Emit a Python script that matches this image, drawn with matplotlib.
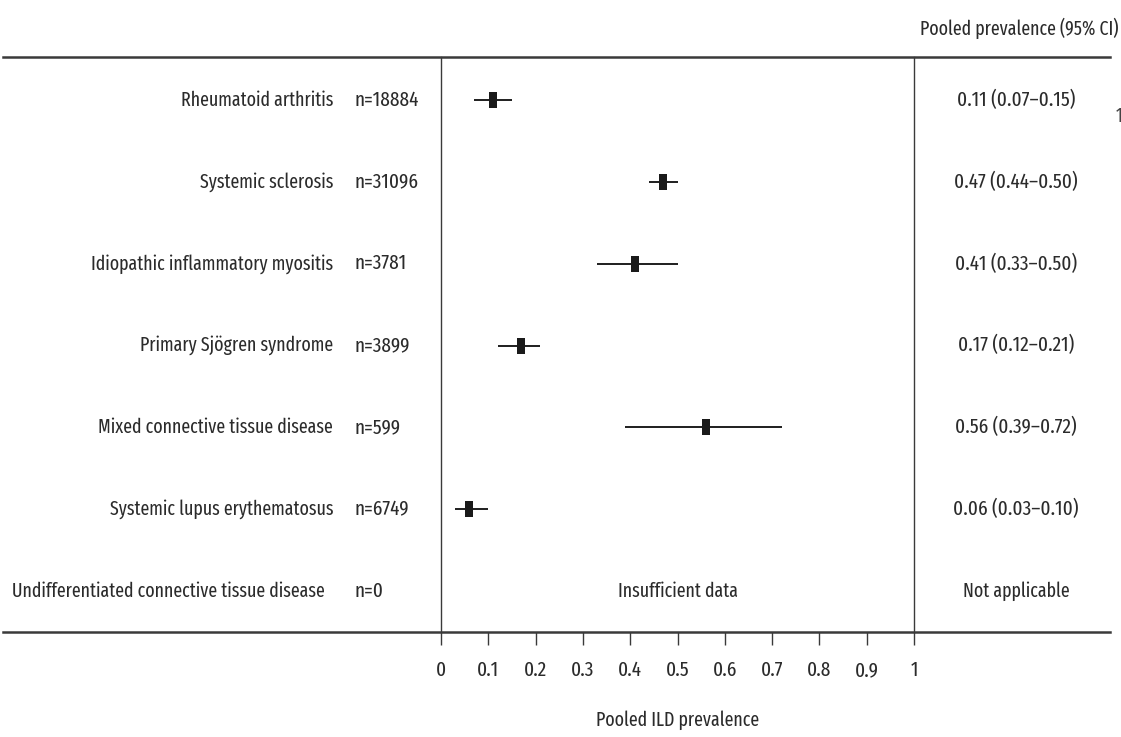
import matplotlib.pyplot as plt
from matplotlib import font_manager
from matplotlib.lines import Line2D
from matplotlib.transforms import blended_transform_factory
import numpy as np

names = ["Rheumatoid arthritis", "Systemic sclerosis", "Idiopathic inflammatory myositis",
         "Primary Sjögren syndrome", "Mixed connective tissue disease",
         "Systemic lupus erythematosus", "Undifferentiated connective tissue disease"]
n_counts = ["n=18884", "n=31096", "n=3781", "n=3899", "n=599", "n=6749", "n=0"]
est = [0.11, 0.47, 0.41, 0.17, 0.56, 0.06]
lo = [0.07, 0.44, 0.33, 0.12, 0.39, 0.03]
hi = [0.15, 0.50, 0.50, 0.21, 0.72, 0.10]
ci_text = ["0.11 (0.07–0.15)", "0.47 (0.44–0.50)", "0.41 (0.33–0.50)", "0.17 (0.12–0.21)",
           "0.56 (0.39–0.72)", "0.06 (0.03–0.10)", "Not applicable"]
ticks = np.arange(0, 1.01, 0.1)
tick_labels = ["0", "0.1", "0.2", "0.3", "0.4", "0.5", "0.6", "0.7", "0.8", "0.9", "1"]

# pick a condensed sans if one is around
avail = {f.name for f in font_manager.fontManager.ttflist}
fam = 'DejaVu Sans'
for cand in ['Fira Sans Extra Condensed', 'Fira Sans Condensed', 'IBM Plex Sans Condensed',
             'Open Sans Condensed', 'Roboto Condensed']:
    if cand in avail:
        fam = cand
        break
plt.rcParams['font.family'] = [fam, 'DejaVu Sans']
plt.rcParams['font.size'] = 15
txt = '#2b2b2b'
lc = '#3a3a3a'

W, H = 1121, 737
fig = plt.figure(figsize=(W / 100, H / 100), dpi=100)

def fx(px):
    return px / W

def fy(py):
    return 1 - py / H

ax = fig.add_axes([fx(441), fy(632), fx(914) - fx(441), fy(57) - fy(632)])
ax.set_xlim(0, 1)
ax.set_ylim(6.5, -0.525)

# estimates with confidence intervals
rect = [(-0.5, -1), (0.5, -1), (0.5, 1), (-0.5, 1), (-0.5, -1)]
ys = np.arange(len(est))
ax.hlines(ys, lo, hi, color='#1e1e1e', lw=1.4)
ax.scatter(est, ys, marker=rect, s=125, color='#1a1a1a', zorder=3, linewidths=0)

ax.text(0.5, 6, "Insufficient data", ha='center', va='center', color=txt, fontsize=14)

for s in ['top', 'bottom']:
    ax.spines[s].set_visible(False)
for s in ['left', 'right']:
    ax.spines[s].set_color(lc)
    ax.spines[s].set_linewidth(1.0)

ax.set_yticks([])
ax.set_xticks(ticks)
ax.set_xticklabels(tick_labels, color=txt)
ax.tick_params(axis='x', length=9.5, width=1.0, color=lc, pad=11)
ax.set_xlabel("Pooled ILD prevalence", color=txt, labelpad=22, fontsize=14)

# row labels, counts and CI column
tr = blended_transform_factory(fig.transFigure, ax.transData)
for i in range(len(names)):
    xr = 333 if i < 6 else 325
    ax.text(fx(xr), i, names[i], transform=tr, ha='right', va='center', color=txt, fontsize=14)
    ax.text(fx(355), i, n_counts[i], transform=tr, ha='left', va='center', color=txt)
    ax.text(fx(1016), i, ci_text[i], transform=tr, ha='center', va='center', color=txt,
            fontsize=15 if i < 6 else 14)

fig.text(fx(1019), fy(28), "Pooled prevalence (95% CI)", ha='center', va='center', color=txt,
         fontsize=14)
fig.text(fx(1116), fy(116), "1", ha='left', va='center', color='#444444', fontsize=14)

# horizontal rules across the whole table
for py in [57, 632]:
    fig.add_artist(Line2D([fx(3), fx(1110)], [fy(py), fy(py)], color=lc, lw=1.8))

fig.savefig("out.png", dpi=100)
